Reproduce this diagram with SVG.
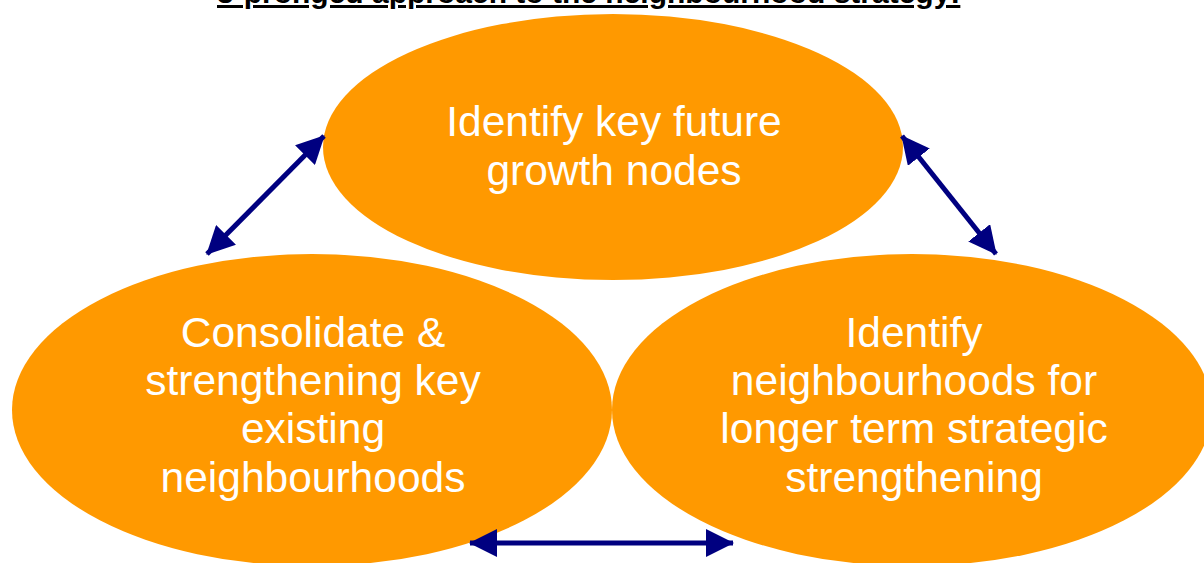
<svg xmlns="http://www.w3.org/2000/svg" width="1204" height="563" viewBox="0 0 1204 563">
  <style>
    .node { fill: #FF9900; }
    .label { font-family: "Liberation Sans", Arial, sans-serif; font-size: 42.5px; fill: #FFFFFF; text-anchor: middle; }
    .title { font-family: "Liberation Sans", Arial, sans-serif; font-size: 30px; font-weight: bold; fill: #000000; text-decoration: underline; }
    .conn { stroke: #000080; stroke-width: 5; fill: none; }
  </style>
  <defs>
    <marker id="head" markerUnits="userSpaceOnUse" markerWidth="28" markerHeight="28" viewBox="0 0 28 28" refX="27" refY="14" orient="auto-start-reverse">
      <path d="M0,0 L28,14 L0,28 z" fill="#000080"/>
    </marker>
  </defs>
  <rect width="1204" height="563" fill="#FFFFFF"/>
  <text class="title" x="217" y="3">3-pronged approach to the neighbourhood strategy:</text>

  <g id="node-growth">
    <ellipse class="node" cx="613" cy="147" rx="290" ry="133"/>
    <text class="label" x="614" y="136">Identify key future</text>
    <text class="label" x="614" y="185">growth nodes</text>
  </g>
  <g id="node-consolidate">
    <ellipse class="node" cx="312" cy="410" rx="300" ry="156"/>
    <text class="label" x="313" y="347">Consolidate &amp;</text>
    <text class="label" x="313" y="395">strengthening key</text>
    <text class="label" x="313" y="443">existing</text>
    <text class="label" x="313" y="492">neighbourhoods</text>
  </g>
  <g id="node-longer-term">
    <ellipse class="node" cx="912" cy="410" rx="300" ry="156"/>
    <text class="label" x="914" y="347">Identify</text>
    <text class="label" x="914" y="395">neighbourhoods for</text>
    <text class="label" x="914" y="443">longer term strategic</text>
    <text class="label" x="914" y="492">strengthening</text>
  </g>

  <g id="connectors">
    <line class="conn" x1="207" y1="254" x2="324" y2="136" marker-start="url(#head)" marker-end="url(#head)"/>
    <line class="conn" x1="902" y1="136" x2="996" y2="254" marker-start="url(#head)" marker-end="url(#head)"/>
    <line class="conn" x1="470" y1="543" x2="733" y2="543" marker-start="url(#head)" marker-end="url(#head)"/>
  </g>
</svg>
